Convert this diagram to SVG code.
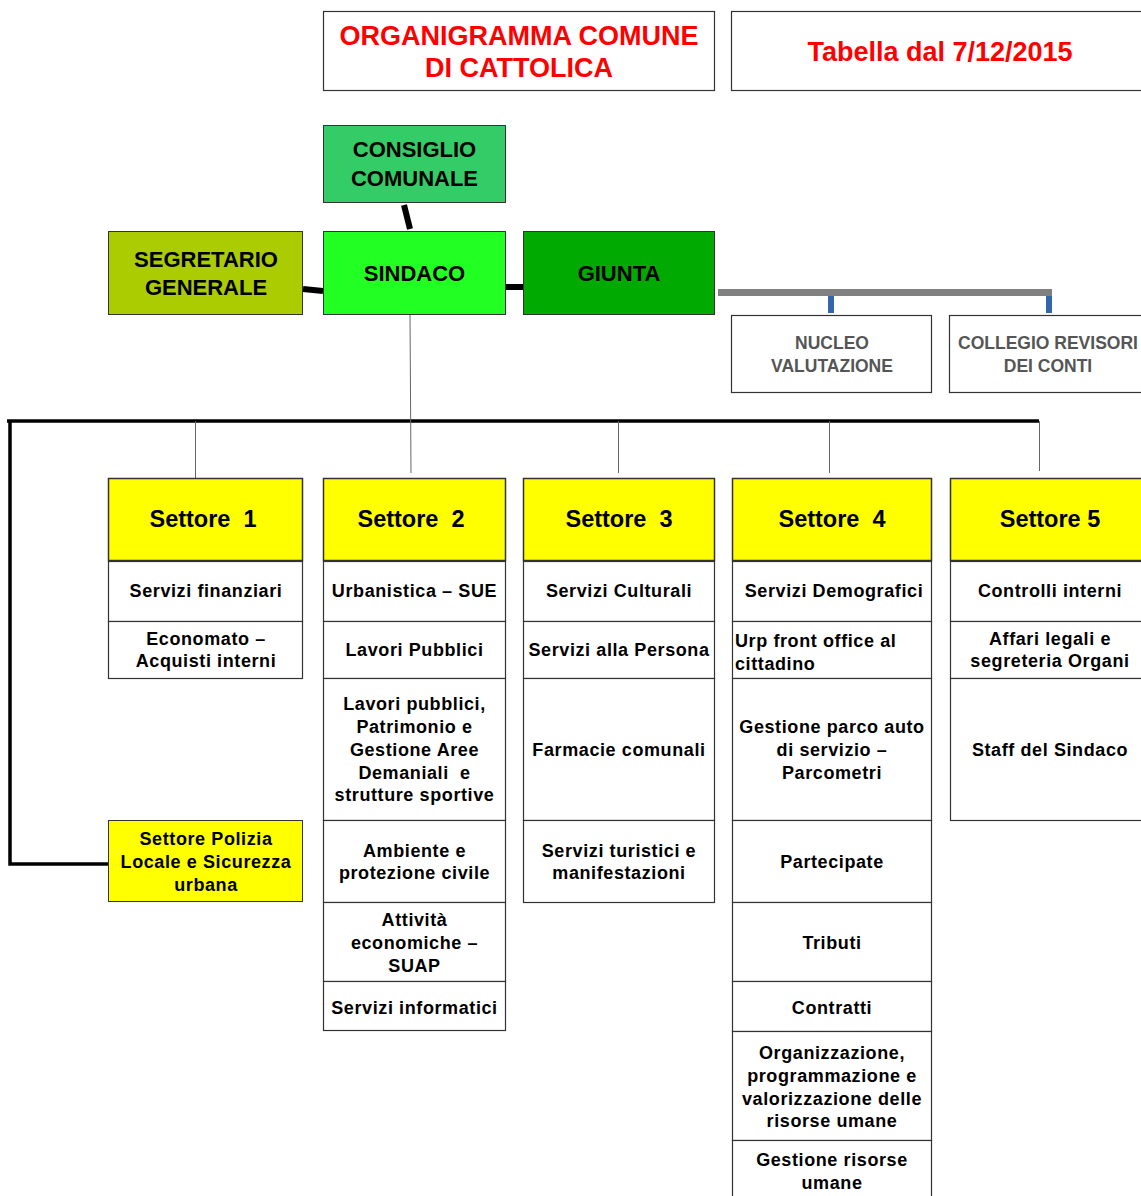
<svg xmlns="http://www.w3.org/2000/svg" width="1141" height="1196" viewBox="0 0 1141 1196">
<style>
text{font-family:"Liberation Sans",Arial,sans-serif;font-weight:bold;text-anchor:middle;fill:#000}
.box{fill:#fff;stroke:#333;stroke-width:1.2}
.hdr{fill:#ffff00;stroke:#333;stroke-width:1.5}
.s{font-size:18px;letter-spacing:0.6px}
.h{font-size:23.5px}
.n{font-size:22px}
.g{font-size:17.5px;fill:#555}
.title{font-size:27px;fill:#ff0000}
.thin{stroke:#000;stroke-width:1;fill:none}
.stub{stroke:#666;stroke-width:1;fill:none}
.thick{stroke:#000;stroke-width:6;fill:none}
</style>
<rect width="1141" height="1196" fill="#fff"/>

<g id="connectors">
  <line class="thick" x1="404" y1="205" x2="410" y2="229"/>
  <line class="thick" x1="303" y1="289" x2="323" y2="291"/>
  <line class="thick" x1="506" y1="287" x2="523" y2="287"/>
  <line x1="718" y1="292.5" x2="1052" y2="292.5" stroke="#808080" stroke-width="7"/>
  <line x1="831" y1="296" x2="831" y2="313" stroke="#3366aa" stroke-width="6"/>
  <line x1="1049" y1="296" x2="1049" y2="313" stroke="#3366aa" stroke-width="6"/>
  <line x1="7" y1="421" x2="1039" y2="421" stroke="#000" stroke-width="3.5"/>
  <polyline points="10,421 10,864 108,864" stroke="#000" stroke-width="3.5" fill="none"/>
  <line class="stub" x1="410" y1="315" x2="411" y2="473"/>
  <line class="stub" x1="195.5" y1="421" x2="195.5" y2="478"/>
  <line class="stub" x1="618.5" y1="421" x2="618.5" y2="473"/>
  <line class="stub" x1="829.5" y1="421" x2="829.5" y2="473"/>
  <line class="stub" x1="1039.5" y1="421" x2="1039.5" y2="471"/>
</g>

<g id="title1">
  <rect class="box" x="323.5" y="11.5" width="391" height="79"/>
  <text class="title" x="519" y="45">ORGANIGRAMMA COMUNE</text>
  <text class="title" x="519" y="77">DI CATTOLICA</text>
</g>
<g id="title2">
  <rect class="box" x="731.5" y="11.5" width="420" height="79"/>
  <text class="title" x="940" y="61">Tabella dal 7/12/2015</text>
</g>

<g id="consiglio">
  <rect x="323.5" y="125.5" width="182" height="77" fill="#33cc66" stroke="#333"/>
  <text class="n" x="414.5" y="157">CONSIGLIO</text>
  <text class="n" x="414.5" y="186">COMUNALE</text>
</g>
<g id="segretario">
  <rect x="108.5" y="231.5" width="194" height="83" fill="#aacc00" stroke="#333"/>
  <text class="n" x="206" y="267">SEGRETARIO</text>
  <text class="n" x="206" y="295">GENERALE</text>
</g>
<g id="sindaco">
  <rect x="323.5" y="231.5" width="182" height="83" fill="#22ff22" stroke="#333"/>
  <text class="n" x="414.5" y="281">SINDACO</text>
</g>
<g id="giunta">
  <rect x="523.5" y="231.5" width="191" height="83" fill="#00aa00" stroke="#333"/>
  <text class="n" x="619" y="281">GIUNTA</text>
</g>
<g id="nucleo">
  <rect class="box" x="731.5" y="315.5" width="200" height="77"/>
  <text class="g" x="832" y="349">NUCLEO</text>
  <text class="g" x="832" y="372">VALUTAZIONE</text>
</g>
<g id="collegio">
  <rect class="box" x="949.5" y="315.5" width="200" height="77"/>
  <text class="g" x="1048" y="349">COLLEGIO REVISORI</text>
  <text class="g" x="1048" y="372">DEI CONTI</text>
</g>

<g id="settore1">
  <rect class="hdr" x="108.5" y="478.5" width="194" height="82"/>
  <text class="h" x="203" y="527" xml:space="preserve">Settore  1</text>
  <rect class="box" x="108.5" y="561.5" width="194" height="60"/>
  <text class="s" x="206" y="597">Servizi finanziari</text>
  <rect class="box" x="108.5" y="621.5" width="194" height="57"/>
  <text class="s" x="206" y="645">Economato –</text>
  <text class="s" x="206" y="667">Acquisti interni</text>
</g>

<g id="settore2">
  <rect class="hdr" x="323.5" y="478.5" width="182" height="82"/>
  <text class="h" x="411" y="527" xml:space="preserve">Settore  2</text>
  <rect class="box" x="323.5" y="561.5" width="182" height="60"/>
  <text class="s" x="414.5" y="597">Urbanistica – SUE</text>
  <rect class="box" x="323.5" y="621.5" width="182" height="57"/>
  <text class="s" x="414.5" y="656">Lavori Pubblici</text>
  <rect class="box" x="323.5" y="678.5" width="182" height="142"/>
  <text class="s" x="414.5" y="710">Lavori pubblici,</text>
  <text class="s" x="414.5" y="733">Patrimonio e</text>
  <text class="s" x="414.5" y="756">Gestione Aree</text>
  <text class="s" x="414.5" y="779" xml:space="preserve">Demaniali  e</text>
  <text class="s" x="414.5" y="801">strutture sportive</text>
  <rect class="box" x="323.5" y="820.5" width="182" height="82"/>
  <text class="s" x="414.5" y="857">Ambiente e</text>
  <text class="s" x="414.5" y="879">protezione civile</text>
  <rect class="box" x="323.5" y="902.5" width="182" height="79"/>
  <text class="s" x="414.5" y="926">Attività</text>
  <text class="s" x="414.5" y="949">economiche –</text>
  <text class="s" x="414.5" y="972">SUAP</text>
  <rect class="box" x="323.5" y="981.5" width="182" height="49"/>
  <text class="s" x="414.5" y="1014">Servizi informatici</text>
</g>

<g id="settore3">
  <rect class="hdr" x="523.5" y="478.5" width="191" height="82"/>
  <text class="h" x="619" y="527" xml:space="preserve">Settore  3</text>
  <rect class="box" x="523.5" y="561.5" width="191" height="60"/>
  <text class="s" x="619" y="597">Servizi Culturali</text>
  <rect class="box" x="523.5" y="621.5" width="191" height="57"/>
  <text class="s" x="619" y="656">Servizi alla Persona</text>
  <rect class="box" x="523.5" y="678.5" width="191" height="142"/>
  <text class="s" x="619" y="756">Farmacie comunali</text>
  <rect class="box" x="523.5" y="820.5" width="191" height="82"/>
  <text class="s" x="619" y="857">Servizi turistici e</text>
  <text class="s" x="619" y="879">manifestazioni</text>
</g>

<g id="settore4">
  <rect class="hdr" x="732.5" y="478.5" width="199" height="82"/>
  <text class="h" x="832" y="527" xml:space="preserve">Settore  4</text>
  <rect class="box" x="732.5" y="561.5" width="199" height="60"/>
  <text class="s" x="834" y="597">Servizi Demografici</text>
  <rect class="box" x="732.5" y="621.5" width="199" height="57"/>
  <text class="s" x="735" y="647" style="text-anchor:start">Urp front office al</text>
  <text class="s" x="735" y="670" style="text-anchor:start">cittadino</text>
  <rect class="box" x="732.5" y="678.5" width="199" height="142"/>
  <text class="s" x="832" y="733">Gestione parco auto</text>
  <text class="s" x="832" y="756">di servizio –</text>
  <text class="s" x="832" y="779">Parcometri</text>
  <rect class="box" x="732.5" y="820.5" width="199" height="82"/>
  <text class="s" x="832" y="868">Partecipate</text>
  <rect class="box" x="732.5" y="902.5" width="199" height="79"/>
  <text class="s" x="832" y="949">Tributi</text>
  <rect class="box" x="732.5" y="981.5" width="199" height="50"/>
  <text class="s" x="832" y="1014">Contratti</text>
  <rect class="box" x="732.5" y="1031.5" width="199" height="109"/>
  <text class="s" x="832" y="1059">Organizzazione,</text>
  <text class="s" x="832" y="1082">programmazione e</text>
  <text class="s" x="832" y="1105">valorizzazione delle</text>
  <text class="s" x="832" y="1127">risorse umane</text>
  <rect class="box" x="732.5" y="1140.5" width="199" height="70"/>
  <text class="s" x="832" y="1166">Gestione risorse</text>
  <text class="s" x="832" y="1189">umane</text>
</g>

<g id="settore5">
  <rect class="hdr" x="950.5" y="478.5" width="200" height="82"/>
  <text class="h" x="1050" y="527">Settore 5</text>
  <rect class="box" x="950.5" y="561.5" width="200" height="60"/>
  <text class="s" x="1050" y="597">Controlli interni</text>
  <rect class="box" x="950.5" y="621.5" width="200" height="57"/>
  <text class="s" x="1050" y="645">Affari legali e</text>
  <text class="s" x="1050" y="667">segreteria Organi</text>
  <rect class="box" x="950.5" y="678.5" width="200" height="142"/>
  <text class="s" x="1050" y="756">Staff del Sindaco</text>
</g>

<g id="polizia">
  <rect x="108.5" y="820.5" width="194" height="81" fill="#ffff00" stroke="#333"/>
  <text class="s" x="206" y="845">Settore Polizia</text>
  <text class="s" x="206" y="868">Locale e Sicurezza</text>
  <text class="s" x="206" y="891">urbana</text>
</g>
</svg>
